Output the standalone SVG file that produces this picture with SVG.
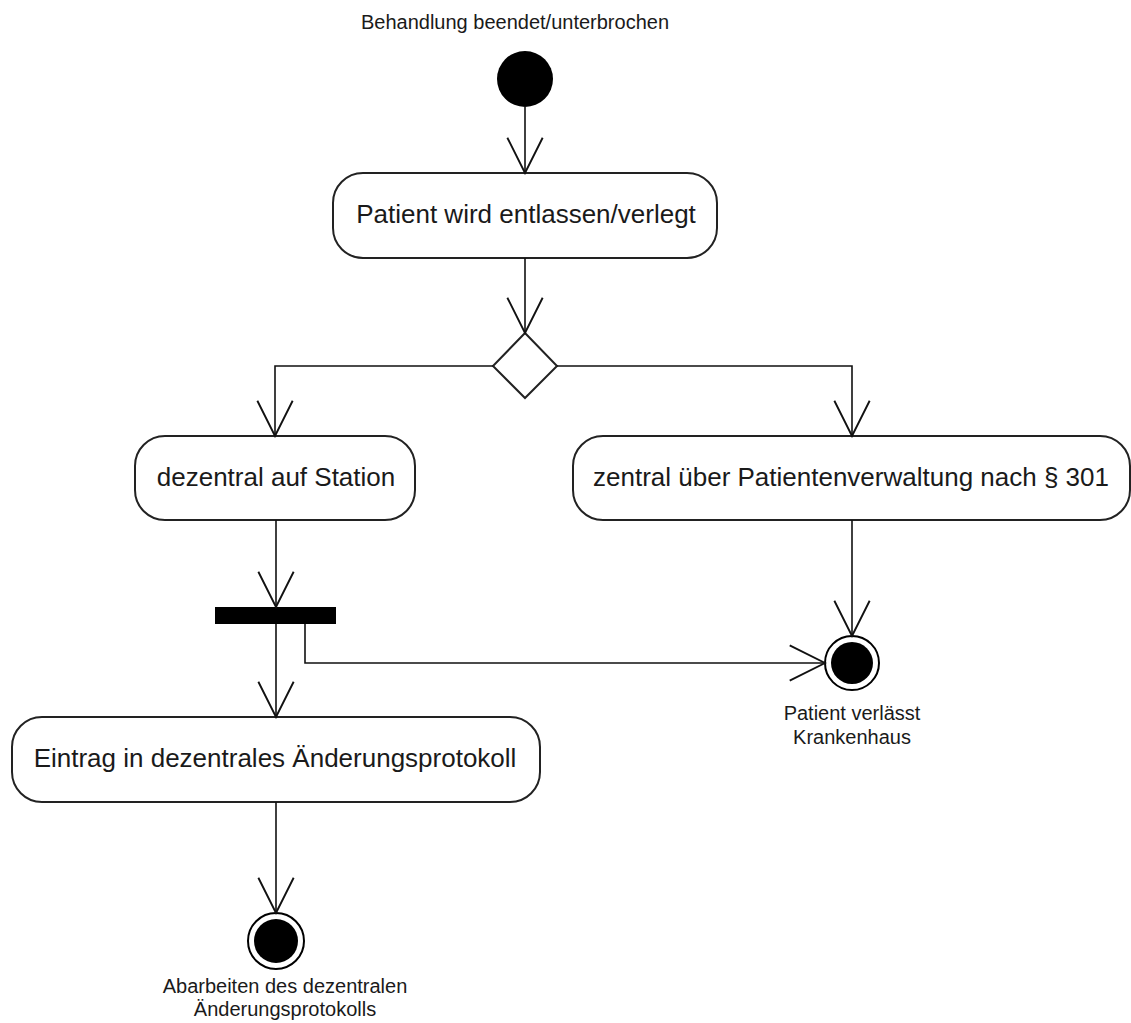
<svg xmlns="http://www.w3.org/2000/svg" width="1131" height="1023" viewBox="0 0 1131 1023">
<style>
.box{fill:#fff;stroke:#222;stroke-width:2}
.lbl{font-family:"Liberation Sans",Arial,sans-serif;font-size:26px;fill:#1a1a1a;text-anchor:middle}
.sm{font-family:"Liberation Sans",Arial,sans-serif;font-size:20px;fill:#1a1a1a;text-anchor:middle}
.edge{fill:none;stroke:#111;stroke-width:1.6}
</style>
<defs>
<marker id="arr" markerUnits="userSpaceOnUse" markerWidth="40" markerHeight="40" viewBox="-32 -17 34 34" refX="0" refY="0" orient="auto">
<path d="M-30,-15 L0,0 L-30,15" fill="none" stroke="#111" stroke-width="1.6"/>
</marker>
</defs>
<rect width="1131" height="1023" fill="#fff"/>
<g id="start">
<text class="sm" x="515" y="29">Behandlung beendet/unterbrochen</text>
<circle cx="525" cy="79" r="28" fill="#000"/>
</g>
<g id="n_entlassen">
<rect class="box" x="333" y="173" width="384" height="85" rx="30"/>
<text class="lbl" x="526" y="223">Patient wird entlassen/verlegt</text>
</g>
<g id="decision">
<polygon points="525,333 557,366 525,398 493,366" fill="#fff" stroke="#222" stroke-width="2"/>
</g>
<g id="n_dezentral">
<rect class="box" x="135" y="436" width="280" height="84" rx="30"/>
<text class="lbl" x="276" y="486">dezentral auf Station</text>
</g>
<g id="n_zentral">
<rect class="box" x="573" y="436" width="557" height="84" rx="30"/>
<text class="lbl" x="851" y="486">zentral über Patientenverwaltung nach § 301</text>
</g>
<g id="fork">
<rect x="215" y="607" width="121" height="17" fill="#000"/>
</g>
<g id="end_krankenhaus">
<circle cx="852" cy="663" r="27" fill="#fff" stroke="#000" stroke-width="2"/>
<circle cx="852" cy="663" r="21" fill="#000"/>
<text class="sm" x="852" y="720">Patient verlässt</text>
<text class="sm" x="852" y="744">Krankenhaus</text>
</g>
<g id="n_eintrag">
<rect class="box" x="12" y="717" width="528" height="85" rx="30"/>
<text class="lbl" x="275" y="767">Eintrag in dezentrales Änderungsprotokoll</text>
</g>
<g id="end_protokoll">
<circle cx="276" cy="941" r="28" fill="#fff" stroke="#000" stroke-width="2"/>
<circle cx="276" cy="941" r="22" fill="#000"/>
<text class="sm" x="285" y="993">Abarbeiten des dezentralen</text>
<text class="sm" x="285" y="1016">Änderungsprotokolls</text>
</g>
<g id="connectors">
<path class="edge" d="M525,107 L525,173" marker-end="url(#arr)"/>
<path class="edge" d="M525,258 L525,333" marker-end="url(#arr)"/>
<path class="edge" d="M493,366 L275,366 L275,436" marker-end="url(#arr)"/>
<path class="edge" d="M557,366 L852,366 L852,436" marker-end="url(#arr)"/>
<path class="edge" d="M276,520 L276,607" marker-end="url(#arr)"/>
<path class="edge" d="M852,520 L852,636" marker-end="url(#arr)"/>
<path class="edge" d="M276,624 L276,717" marker-end="url(#arr)"/>
<path class="edge" d="M305,624 L305,663 L825,663" marker-end="url(#arr)"/>
<path class="edge" d="M276,802 L276,913" marker-end="url(#arr)"/>
</g>
</svg>
